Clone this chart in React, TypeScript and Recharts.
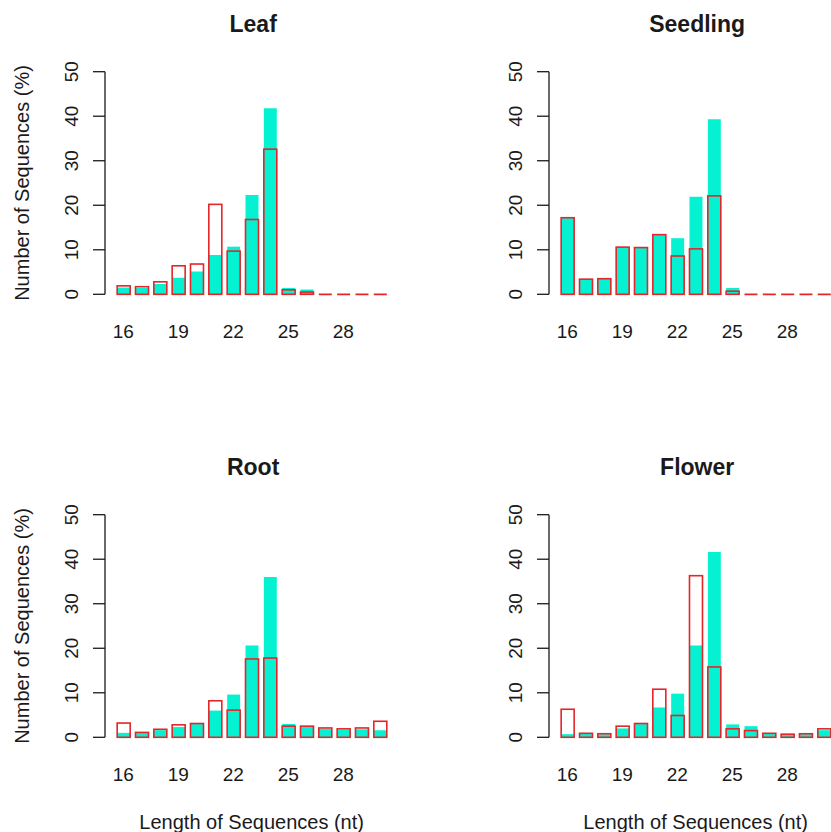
import React from "react";
import { BarChart, Bar, XAxis, YAxis } from "recharts";

// Sequence lengths (nt) on the x axis
const lengths = [16, 17, 18, 19, 20, 21, 22, 23, 24, 25, 26, 27, 28, 29, 30];
const xTickValues = [16, 19, 22, 25, 28];
const yTickValues = [0, 10, 20, 30, 40, 50];

// Percentages per length: filled (cyan) series and outlined (red) series
const leafFilled = [1.5, 1.4, 2.3, 3.7, 5.1, 8.8, 10.7, 22.3, 41.8, 1.4, 1.1, 0, 0, 0, 0];
const leafOutlined = [1.9, 1.7, 2.8, 6.4, 6.8, 20.2, 9.7, 16.8, 32.6, 1.0, 0.5, 0, 0, 0, 0];

const seedlingFilled = [17.2, 3.4, 3.5, 10.6, 10.5, 13.4, 12.6, 21.9, 39.3, 1.4, 0, 0, 0, 0, 0];
const seedlingOutlined = [17.2, 3.4, 3.5, 10.6, 10.5, 13.4, 8.6, 10.2, 22.1, 0.7, 0, 0, 0, 0, 0];

const rootFilled = [1.0, 1.0, 1.6, 2.3, 3.0, 6.0, 9.6, 20.6, 36.0, 3.0, 2.4, 1.9, 1.7, 1.8, 1.6];
const rootOutlined = [3.2, 1.1, 1.8, 2.8, 3.1, 8.2, 6.1, 17.6, 17.8, 2.5, 2.5, 2.1, 1.9, 2.1, 3.6];

const flowerFilled = [0.7, 0.8, 0.7, 2.0, 3.0, 6.7, 9.8, 20.6, 41.6, 2.9, 2.5, 0.8, 0.7, 0.8, 1.6];
const flowerOutlined = [6.3, 0.9, 0.8, 2.5, 3.1, 10.8, 4.9, 36.3, 15.8, 1.9, 1.5, 0.9, 0.7, 0.8, 1.9];

const CYAN = "#05F2D2";
const RED = "#E3262A";
const INK = "#1a1a1a";
const FONT = "'Liberation Sans', Arial, Helvetica, sans-serif";

// Panel geometry (chart-local pixels)
const CHART_W = 415;
const CHART_H = 420;
const PLOT_LEFT = 105;
const PLOT_TOP = 71.7;
const PLOT_W = 293.3;
const PLOT_H = 222.6;
const YAXIS_W = 60;
const XAXIS_H = 60;
const COL_OFFSET = 444.3;
const ROW_OFFSET = 443;

const buildRows = (filled: number[], outlined: number[]) =>
  lengths.map((len, i) => ({ len, filled: filled[i], outlined: outlined[i] }));

const OutlineBar = (props: any) => {
  const { x, y, width, height } = props;
  if (!(height > 0.8)) {
    const yy = y + (height || 0);
    return <line x1={x} x2={x + width} y1={yy} y2={yy} stroke={RED} strokeWidth={1.8} />;
  }
  return <rect x={x} y={y} width={width} height={height} fill="none" stroke={RED} strokeWidth={1.6} />;
};

const XTick = (props: any) => {
  const { x, y, payload } = props;
  return (
    <text x={x} y={y + 44} textAnchor="middle" fontSize={19} fontFamily={FONT} fill={INK}>
      {payload.value}
    </text>
  );
};

const YTick = (props: any) => {
  const { x, y, payload } = props;
  return (
    <text
      x={x}
      y={y}
      transform={`rotate(-90 ${x} ${y})`}
      textAnchor="middle"
      fontSize={19}
      fontFamily={FONT}
      fill={INK}
    >
      {payload.value}
    </text>
  );
};

type PanelProps = {
  title: string;
  filled: number[];
  outlined: number[];
  showYLabel: boolean;
  showXLabel: boolean;
  left: number;
  top: number;
};

const Panel = ({ title, filled, outlined, showYLabel, showXLabel, left, top }: PanelProps) => {
  const rows = buildRows(filled, outlined);
  const cx = PLOT_LEFT + PLOT_W / 2 + 1.5;
  return (
    <div style={{ position: "absolute", left, top, width: CHART_W, height: CHART_H }}>
      <BarChart
        width={CHART_W}
        height={CHART_H}
        data={rows}
        margin={{
          top: PLOT_TOP,
          left: PLOT_LEFT - YAXIS_W,
          right: CHART_W - PLOT_LEFT - PLOT_W,
          bottom: CHART_H - PLOT_TOP - PLOT_H - XAXIS_H,
        }}
      >
        <text
          x={cx}
          y={32}
          textAnchor="middle"
          fontSize={23}
          fontWeight="bold"
          fontFamily={FONT}
          fill={INK}
        >
          {title}
        </text>
        <XAxis
          dataKey="len"
          type="number"
          domain={[15, 31]}
          ticks={xTickValues}
          allowDataOverflow
          axisLine={false}
          tickLine={false}
          tickSize={0}
          tickMargin={0}
          height={XAXIS_H}
          tick={<XTick />}
          interval={0}
          label={
            showXLabel
              ? {
                  content: () => (
                    <text
                      x={cx - 1.5}
                      y={PLOT_TOP + PLOT_H + 91.2}
                      textAnchor="middle"
                      fontSize={20}
                      fontFamily={FONT}
                      fill={INK}
                    >
                      Length of Sequences (nt)
                    </text>
                  ),
                }
              : undefined
          }
        />
        <XAxis xAxisId="outline" dataKey="len" type="number" domain={[15, 31]} allowDataOverflow hide />
        <YAxis
          type="number"
          domain={[0, 50]}
          ticks={yTickValues}
          interval={0}
          width={YAXIS_W}
          stroke={INK}
          axisLine={{ stroke: INK, strokeWidth: 1.3 }}
          tickLine={{ stroke: INK, strokeWidth: 1.3 }}
          tickSize={12}
          tickMargin={14.7}
          tick={<YTick />}
          label={
            showYLabel
              ? {
                  content: () => {
                    const lx = PLOT_LEFT - 76;
                    const ly = PLOT_TOP + PLOT_H / 2;
                    return (
                      <text
                        x={lx}
                        y={ly}
                        transform={`rotate(-90 ${lx} ${ly})`}
                        textAnchor="middle"
                        fontSize={20}
                        fontFamily={FONT}
                        fill={INK}
                      >
                        Number of Sequences (%)
                      </text>
                    );
                  },
                }
              : undefined
          }
        />
        <Bar dataKey="filled" fill={CYAN} barSize={13} isAnimationActive={false} />
        <Bar
          dataKey="outlined"
          xAxisId="outline"
          barSize={13}
          fill="none"
          stroke={RED}
          shape={<OutlineBar />}
          isAnimationActive={false}
        />
      </BarChart>
    </div>
  );
}

export default function App() {
  return (
    <div
      style={{
        position: "absolute",
        left: 0,
        top: 0,
        width: 831,
        height: 832,
        overflow: "hidden",
        background: "#ffffff",
      }}
    >
      <Panel title="Leaf" filled={leafFilled} outlined={leafOutlined} showYLabel showXLabel={false} left={0} top={0} />
      <Panel
        title="Seedling"
        filled={seedlingFilled}
        outlined={seedlingOutlined}
        showYLabel={false}
        showXLabel={false}
        left={COL_OFFSET}
        top={0}
      />
      <Panel title="Root" filled={rootFilled} outlined={rootOutlined} showYLabel showXLabel left={0} top={ROW_OFFSET} />
      <Panel
        title="Flower"
        filled={flowerFilled}
        outlined={flowerOutlined}
        showYLabel={false}
        showXLabel
        left={COL_OFFSET}
        top={ROW_OFFSET}
      />
    </div>
  );
}
